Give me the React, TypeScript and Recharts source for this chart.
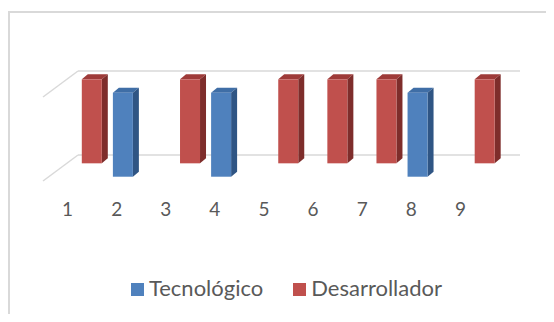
import { BarChart, Bar, XAxis, YAxis, CartesianGrid, Legend } from 'recharts';

const categories = ['1', '2', '3', '4', '5', '6', '7', '8', '9'];
const tecnologico = [null, 1, null, 1, null, null, null, 1, null];
const desarrollador = [1, null, 1, null, 1, 1, 1, null, 1];
const seriesNames = ['Tecnológico', 'Desarrollador'];
const yTicks = [0, 1];

const data = categories.map((cat, i) => ({
  cat,
  tec: tecnologico[i],
  des: desarrollador[i],
}));

// fake perspective: back wall sits this far up/right of the front plane
const DX = 35;
const DY = 26;
// bar thickness (side/top faces)
const SX = 6;
const SY = 5;

const BLUE = { front: '#4F81BD', side: '#2F5584', top: '#3F6EA6' };
const RED = { front: '#C0504D', side: '#7E2D2B', top: '#9E3B39' };

function make3D(depth: number, c: { front: string; side: string; top: string }) {
  return (props: any) => {
    const { x, y, width, height } = props;
    if (!height) return <g />;
    const fx = x + DX * depth;
    const fy = y - DY * depth;
    const r = fx + width;
    const b = fy + height;
    return (
      <g>
        <polygon
          points={`${fx},${fy} ${fx + SX},${fy - SY} ${r + SX},${fy - SY} ${r},${fy}`}
          fill={c.top}
        />
        <polygon
          points={`${r},${fy} ${r + SX},${fy - SY} ${r + SX},${b - SY} ${r},${b}`}
          fill={c.side}
        />
        <rect x={fx} y={fy} width={width} height={height} fill={c.front} />
      </g>
    );
  };
}

const gridLine = (props: any) => {
  const { x1, y1, x2, y2 } = props;
  return (
    <g key={props.key}>
      <line x1={x1} y1={y1} x2={x1 + DX} y2={y1 - DY} stroke="#d9d9d9" strokeWidth={1.5} />
      <line x1={x1 + DX} y1={y1 - DY} x2={x2 + DX} y2={y2 - DY} stroke="#d9d9d9" strokeWidth={1.5} />
    </g>
  );
};

const legendColors = [BLUE.front, RED.front];

const renderLegend = () => (
  <div
    style={{
      display: 'flex',
      justifyContent: 'center',
      alignItems: 'center',
      fontFamily: 'Lato, sans-serif',
      fontSize: 22,
      lineHeight: '26px',
      color: '#595959',
      paddingLeft: 11,
    }}
  >
    {seriesNames.map((name, i) => (
      <div key={name} style={{ display: 'flex', alignItems: 'center', marginLeft: i ? 30 : 0 }}>
        <span style={{ width: 13, height: 13, background: legendColors[i], marginRight: 5, marginTop: 2 }} />
        <span>{name}</span>
      </div>
    ))}
  </div>
);

export default function App() {
  return (
    <div style={{ position: 'relative', width: 546, height: 306 }}>
      <div
        style={{
          position: 'absolute',
          top: 3,
          left: 0,
          width: 546,
          height: 303,
          borderTop: '2px solid #d9d9d9',
          borderLeft: '2px solid #d9d9d9',
          boxSizing: 'border-box',
        }}
      />
      <BarChart
        width={546}
        height={306}
        data={data}
        margin={{ top: 89, right: 69, left: 35, bottom: 103 }}
        style={{ position: 'absolute', top: 0, left: 0 }}
      >
        <CartesianGrid xAxisId="front" vertical={false} horizontal={gridLine} />
        <XAxis
          xAxisId="front"
          dataKey="cat"
          axisLine={false}
          tickLine={false}
          tickSize={0}
          tickMargin={22}
          height={30}
          interval={0}
          tick={{ fill: '#595959', fontSize: 19, fontFamily: 'Lato, sans-serif' }}
        />
        <XAxis xAxisId="back" dataKey="cat" hide height={0} />
        <YAxis hide domain={[0, 1]} ticks={yTicks} />
        <Legend
          layout="horizontal"
          verticalAlign="middle"
          align="center"
          content={renderLegend}
          wrapperStyle={{ top: 267, left: 0, width: 546 }}
        />
        <Bar
          xAxisId="back"
          dataKey="des"
          name={seriesNames[1]}
          fill={RED.front}
          barSize={20}
          shape={make3D(0.68, RED)}
          isAnimationActive={false}
        />
        <Bar
          xAxisId="front"
          dataKey="tec"
          name={seriesNames[0]}
          fill={BLUE.front}
          barSize={20}
          shape={make3D(0.165, BLUE)}
          isAnimationActive={false}
        />
      </BarChart>
    </div>
  );
}
